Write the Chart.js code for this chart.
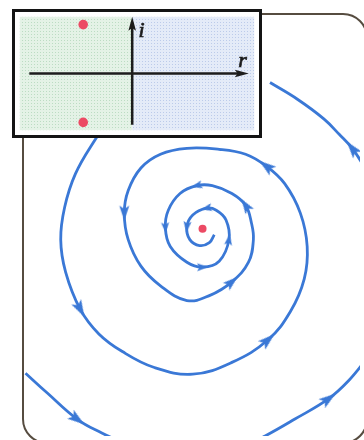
<!DOCTYPE html>
<html>
<head>
<meta charset="utf-8">
<script src="https://cdn.jsdelivr.net/npm/chart.js@4.4.1/dist/chart.umd.min.js"></script>
<style>
  html, body { margin: 0; padding: 0; background: #fff; }
  #wrap { position: relative; width: 364px; height: 440px; overflow: hidden; }
  #phase { position: absolute; left: 0; top: 0; }
  #inset { position: absolute; left: 12px; top: 9px; border: 3px solid #141414; background: #fff; }
  #inset canvas { display: block; }
</style>
</head>
<body>
<div id="wrap">
  <canvas id="phase" width="364" height="440"></canvas>
  <div id="inset"><canvas id="eigen" width="244" height="123"></canvas></div>
</div>
<script>
// phase plane: fixed point at the origin, 1 unit = 10 px
const fixedX = [0];
const fixedY = [0];

// the spiral, from the outside in (direction of motion)
const spiralX = [-9.1, -11.1, -13.0, -14.1, -14.5, -14.0, -12.5, -10.6, -8.2, -5.0, -1.0, 3.0, 6.7, 9.0, 10.4, 10.7, 10.0, 8.4, 6.5,
  4.4, 1.7, -1.6, -4.3, -6.3, -7.6, -8.0, -7.6, -6.3, -4.3, -1.6, 0.7, 3.0, 4.7, 5.2, 5.0, 4.4, 3.0, 1.0, -0.6,
  -2.3, -3.5, -3.8, -3.3, -1.6, 0.0, 1.7, 2.7, 2.4, 1.4, 0.4, -1.0, -1.6, -1.3, -0.3, 0.7, 1.2];
const spiralY = [11.7, 8.9, 5.6, 2.2, -1.1, -4.4, -8.2, -10.7, -12.5, -14.1, -14.8, -13.6, -11.3, -8.4, -5.1, -1.8, 1.6, 4.6, 6.4,
  7.6, 8.1, 8.2, 7.6, 6.2, 3.9, 1.6, -1.1, -3.8, -5.8, -7.3, -6.8, -5.4, -3.4, -1.1, 0.6, 2.4, 3.6, 4.4, 4.4,
  3.6, 1.9, 0.1, -1.8, -3.4, -3.9, -3.3, -1.1, 0.9, 1.9, 2.1, 1.4, 0.2, -1.1, -1.7, -1.4, -0.6];
const spiralBig = [6, 12, 18];
const spiralMid = [25, 31, 35];
const spiralSmall = [38, 41, 44, 46, 49, 51];

// outer trajectories
const topRightX = [17.2, 16.3, 15.3, 14.0, 12.4, 9.7, 6.9];
const topRightY = [4.9, 6.7, 8.2, 9.6, 11.2, 13.2, 14.9];
const topRightArrows = [2];

const bottomLeftX = [-18.1, -15.9, -12.8, -10.3, -8.3];
const bottomLeftY = [-14.7, -16.7, -19.4, -20.8, -21.7];
const bottomLeftArrows = [2];

const bottomRightX = [4.7, 6.4, 9.4, 12.9, 15.0, 16.9];
const bottomRightY = [-21.9, -21.1, -19.4, -17.3, -15.4, -13.1];
const bottomRightArrows = [3];

// inset: eigenvalues in the complex plane
const eigenRe = [-1, -1];
const eigenIm = [1, -1];
const axisR = [-2.1, 2.38];
const axisI = [-1.05, 1.16];

const BLUE = '#3a78d6';
const RED = '#ec4a64';

function toPoints(xs, ys) {
  return xs.map((x, i) => ({ x: x, y: ys[i] }));
}

function makeArrow(len, wid, color) {
  const size = Math.ceil(Math.max(len, wid)) + 2;
  const c = document.createElement('canvas');
  c.width = size; c.height = size;
  const g = c.getContext('2d');
  const m = size / 2;
  g.fillStyle = color;
  g.beginPath();
  g.moveTo(m + len / 2, m);
  g.lineTo(m - len / 2, m - wid / 2);
  g.lineTo(m - len / 2 + len * 0.22, m);
  g.lineTo(m - len / 2, m + wid / 2);
  g.closePath();
  g.fill();
  return c;
}

const bigArrow = makeArrow(17, 11, BLUE);
const midArrow = makeArrow(15, 10, BLUE);
const smallArrow = makeArrow(11, 8, BLUE);

function arrowAngle(ctx) {
  const d = ctx.dataset.data, i = ctx.dataIndex;
  const sx = ctx.chart.scales.x, sy = ctx.chart.scales.y;
  const a = d[Math.max(i - 1, 0)], b = d[Math.min(i + 1, d.length - 1)];
  const dx = sx.getPixelForValue(b.x) - sx.getPixelForValue(a.x);
  const dy = sy.getPixelForValue(b.y) - sy.getPixelForValue(a.y);
  return Math.atan2(dy, dx) * 180 / Math.PI;
}

function trajectory(xs, ys, arrowSets) {
  const pick = i => {
    for (const [idx, img] of arrowSets) if (idx.includes(i)) return img;
    return null;
  };
  return {
    data: toPoints(xs, ys),
    showLine: true,
    borderColor: BLUE,
    borderWidth: 2.8,
    tension: 0.4,
    fill: false,
    pointRadius: ctx => pick(ctx.dataIndex) ? 6 : 0,
    pointStyle: ctx => pick(ctx.dataIndex) || 'circle',
    pointRotation: arrowAngle
  };
}

const framePlugin = {
  id: 'frame',
  beforeDatasetsDraw(chart) {
    const ctx = chart.ctx;
    const l = 23, t = 14, r = 367, b = 443, rad = 24;
    ctx.save();
    ctx.strokeStyle = '#564c40';
    ctx.lineWidth = 2;
    ctx.beginPath();
    ctx.moveTo(l + rad, t);
    ctx.arcTo(r, t, r, b, rad);
    ctx.arcTo(r, b, l, b, rad);
    ctx.arcTo(l, b, l, t, rad);
    ctx.arcTo(l, t, r, t, rad);
    ctx.closePath();
    ctx.stroke();
    ctx.restore();
  }
};

new Chart(document.getElementById('phase'), {
  type: 'scatter',
  data: {
    datasets: [
      { data: toPoints(fixedX, fixedY), pointRadius: 4, pointBackgroundColor: RED, pointBorderWidth: 0, showLine: false },
      trajectory(spiralX, spiralY, [[spiralBig, bigArrow], [spiralMid, midArrow], [spiralSmall, smallArrow]]),
      trajectory(topRightX, topRightY, [[topRightArrows, bigArrow]]),
      trajectory(bottomLeftX, bottomLeftY, [[bottomLeftArrows, bigArrow]]),
      trajectory(bottomRightX, bottomRightY, [[bottomRightArrows, bigArrow]])
    ]
  },
  options: {
    responsive: false,
    devicePixelRatio: 1,
    animation: false,
    layout: { padding: 0 },
    plugins: { legend: { display: false }, tooltip: { enabled: false } },
    scales: {
      x: { type: 'linear', min: -20.3, max: 16.1, display: false },
      y: { type: 'linear', min: -21.1, max: 22.9, display: false }
    }
  },
  plugins: [framePlugin]
});

function dotPattern(ctx, base, dot) {
  const c = document.createElement('canvas');
  c.width = 3; c.height = 3;
  const g = c.getContext('2d');
  g.fillStyle = base; g.fillRect(0, 0, 3, 3);
  g.fillStyle = dot; g.fillRect(1, 1, 1, 1);
  return ctx.createPattern(c, 'repeat');
}

function arrowHead(ctx, x, y, ang, len, half) {
  ctx.save();
  ctx.translate(x, y);
  ctx.rotate(ang);
  ctx.beginPath();
  ctx.moveTo(0, 0);
  ctx.lineTo(-len, -half);
  ctx.lineTo(-len * 0.8, 0);
  ctx.lineTo(-len, half);
  ctx.closePath();
  ctx.fill();
  ctx.restore();
}

const planePlugin = {
  id: 'plane',
  beforeDatasetsDraw(chart) {
    const ctx = chart.ctx, a = chart.chartArea;
    const sx = chart.scales.x, sy = chart.scales.y;
    const x0 = sx.getPixelForValue(0), y0 = sy.getPixelForValue(0);
    ctx.save();
    ctx.fillStyle = dotPattern(ctx, '#e4f2e6', '#bcdcc3');
    ctx.fillRect(a.left, a.top, x0 - a.left, a.bottom - a.top);
    ctx.fillStyle = dotPattern(ctx, '#e4ebf8', '#bccbea');
    ctx.fillRect(x0, a.top, a.right - x0, a.bottom - a.top);

    ctx.strokeStyle = '#1c1c1c';
    ctx.fillStyle = '#1c1c1c';
    ctx.lineWidth = 2.5;
    const rL = sx.getPixelForValue(axisR[0]), rR = sx.getPixelForValue(axisR[1]);
    const iB = sy.getPixelForValue(axisI[0]), iT = sy.getPixelForValue(axisI[1]);
    ctx.beginPath();
    ctx.moveTo(rL, y0); ctx.lineTo(rR - 6, y0);
    ctx.moveTo(x0, iB); ctx.lineTo(x0, iT + 6);
    ctx.stroke();
    arrowHead(ctx, rR, y0, 0, 14, 3.8);
    arrowHead(ctx, x0, iT, -Math.PI / 2, 14, 3.8);

    ctx.font = 'italic 22px "Liberation Serif"';
    ctx.textAlign = 'center';
    ctx.textBaseline = 'middle';
    ctx.lineWidth = 0.7;
    const lr = [sx.getPixelForValue(2.25), sy.getPixelForValue(0.26)];
    const li = [sx.getPixelForValue(0.19), sy.getPixelForValue(0.86)];
    ctx.fillText('r', lr[0], lr[1]);
    ctx.strokeText('r', lr[0], lr[1]);
    ctx.fillText('i', li[0], li[1]);
    ctx.strokeText('i', li[0], li[1]);
    ctx.restore();
  }
};

new Chart(document.getElementById('eigen'), {
  type: 'scatter',
  data: {
    datasets: [{
      data: toPoints(eigenRe, eigenIm),
      pointRadius: 4.8,
      pointBackgroundColor: RED,
      pointBorderWidth: 0
    }]
  },
  options: {
    responsive: false,
    devicePixelRatio: 1,
    animation: false,
    layout: { padding: 0 },
    plugins: { legend: { display: false }, tooltip: { enabled: false } },
    scales: {
      x: { type: 'linear', min: -2.294, max: 2.49, display: false },
      y: { type: 'linear', min: -1.16, max: 1.16, display: false }
    }
  },
  plugins: [planePlugin]
});
</script>
</body>
</html>
